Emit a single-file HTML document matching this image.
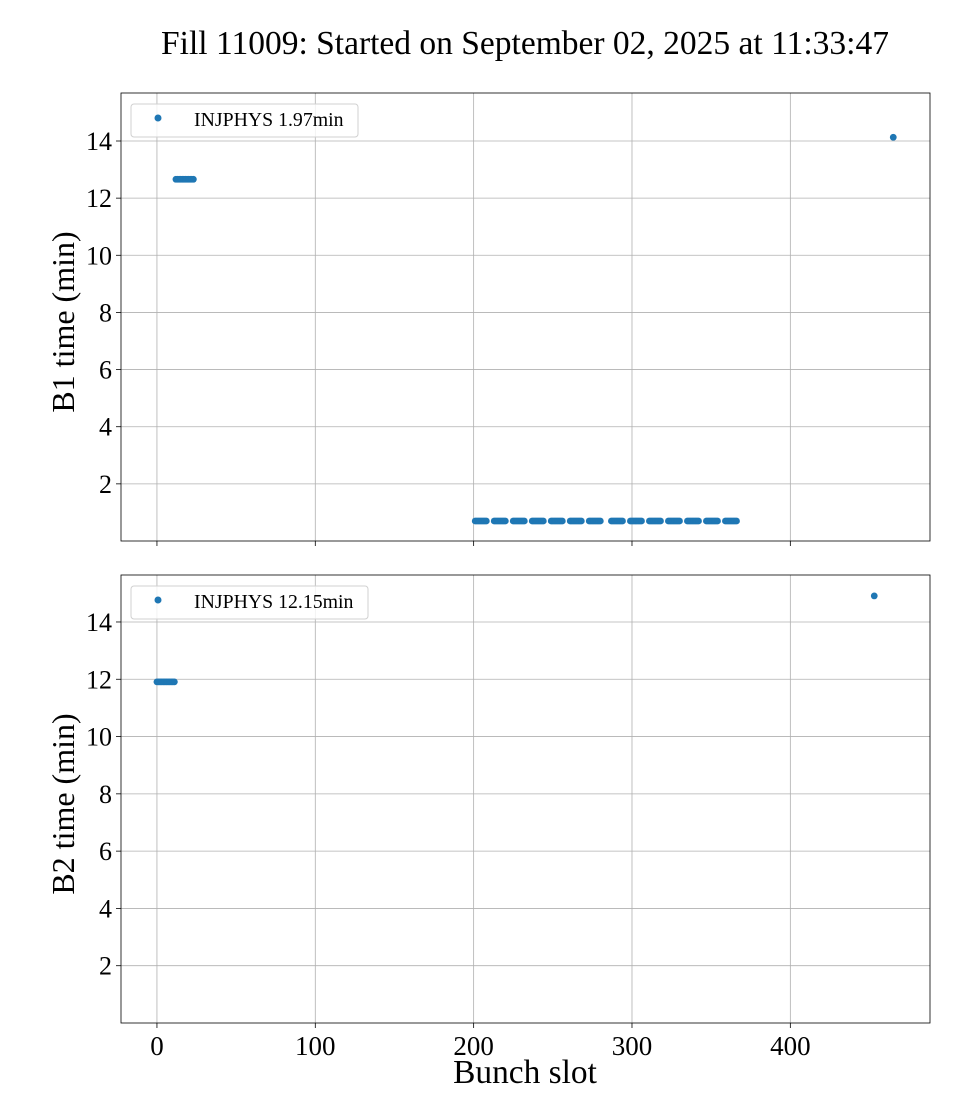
<!DOCTYPE html>
<html><head><meta charset="utf-8">
<style>
html,body{margin:0;padding:0;background:#fff;}
svg{display:block;font-family:"Liberation Serif",serif;}
</style></head>
<body>
<svg id="chart" width="960" height="1120" viewBox="0 0 960 1120"></svg>
<script>
// ---- data ----
const titleText = "Fill 11009: Started on September 02, 2025 at 11:33:47";
const xTicks = [0, 100, 200, 300, 400];
const yTicks = [2, 4, 6, 8, 10, 12, 14];
const b1GroupStarts = [12, 201, 213, 225, 237, 249, 261, 273, 287, 299, 311, 323, 335, 347, 359];
const b1GroupLengths = [12, 8, 8, 8, 8, 8, 8, 8, 8, 8, 8, 8, 8, 8, 8];
const b1GroupTimes = [12.66, 0.70, 0.70, 0.70, 0.70, 0.70, 0.70, 0.70, 0.70, 0.70, 0.70, 0.70, 0.70, 0.70, 0.70];
const b1SingleSlots = [465];
const b1SingleTimes = [14.13];
const b2GroupStarts = [0];
const b2GroupLengths = [12];
const b2GroupTimes = [11.91];
const b2SingleSlots = [453];
const b2SingleTimes = [14.91];
const b1Legend = "INJPHYS 1.97min";
const b2Legend = "INJPHYS 12.15min";

const NS = "http://www.w3.org/2000/svg";
const svg = document.getElementById('chart');
function mk(tag, attrs, parent){
  const e = document.createElementNS(NS, tag);
  for (const k in attrs) e.setAttribute(k, attrs[k]);
  (parent||svg).appendChild(e); return e;
}
const X0 = 121, X1 = 930, xMin = -22.7, xMax = 488.2;
const xScale = v => X0 + (v - xMin) / (xMax - xMin) * (X1 - X0);

const t = mk('text', {x: 525, y: 54, 'text-anchor': 'middle', 'font-size': 33.5, fill: '#000'});


t.textContent = titleText;

function panel(name, top, bottom, yMax, ylabel, gStarts, gLens, gTimes, sSlots, sTimes, legendText, legendW, showX){
  const yMin = 0;
  const yScale = v => bottom - (v - yMin) / (yMax - yMin) * (bottom - top);
  const g = mk('g', {});
  
  
  xTicks.forEach(v => {
    const l = mk('line', {x1: xScale(v), x2: xScale(v), y1: top, y2: bottom, stroke: '#b0b0b0', 'stroke-width': 0.8}, g);
    
    
    const tk = mk('line', {x1: xScale(v), x2: xScale(v), y1: bottom, y2: bottom + 5, stroke: '#000', 'stroke-width': 0.8}, g);
    
    
    if (showX) {
      const tl = mk('text', {x: xScale(v), y: bottom + 32, 'text-anchor': 'middle', 'font-size': 27}, g);
      
      
      tl.textContent = v;
    }
  });
  yTicks.forEach(v => {
    const l = mk('line', {x1: X0, x2: X1, y1: yScale(v), y2: yScale(v), stroke: '#b0b0b0', 'stroke-width': 0.8}, g);
    
    
    const tk = mk('line', {x1: X0 - 5, x2: X0, y1: yScale(v), y2: yScale(v), stroke: '#000', 'stroke-width': 0.8}, g);
    
    
    const tl = mk('text', {x: X0 - 9, y: yScale(v) + 9, 'text-anchor': 'end', 'font-size': 26}, g);
    
    
    tl.textContent = v;
  });
  gStarts.forEach((s, i) => {
    for (let k = 0; k < gLens[i]; k++) {
      const c = mk('circle', {cx: xScale(s + k), cy: yScale(gTimes[i]), r: 3.4, fill: '#1f77b4'}, g);
      
      
    }
  });
  sSlots.forEach((s, i) => {
    const c = mk('circle', {cx: xScale(s), cy: yScale(sTimes[i]), r: 3.4, fill: '#1f77b4'}, g);
    
    
  });
  const fr = mk('rect', {x: X0, y: top, width: X1 - X0, height: bottom - top, fill: 'none', stroke: '#000', 'stroke-width': 0.8}, g);
  
  
  const yl = mk('text', {x: 0, y: 0, 'text-anchor': 'middle', 'font-size': 32, transform: `translate(74 ${(top + bottom) / 2 + 5}) rotate(-90)`}, g);
  
  
  yl.textContent = ylabel;
  const lg = mk('g', {}, g);
  
  
  mk('rect', {x: 131, y: top + 11, width: legendW, height: 33, rx: 3, fill: '#fff', 'fill-opacity': 0.8, stroke: '#d0d0d0', 'stroke-width': 1}, lg);
  const lc = mk('circle', {cx: 158, cy: top + 25, r: 3.5, fill: '#1f77b4'}, lg);
  
  
  const lt = mk('text', {x: 194, y: top + 33, 'font-size': 19.8}, lg);
  
  
  lt.textContent = legendText;
}

panel('b1', 93, 541, 15.68, 'B1 time (min)', b1GroupStarts, b1GroupLengths, b1GroupTimes, b1SingleSlots, b1SingleTimes, b1Legend, 227, false);
panel('b2', 575, 1023, 15.64, 'B2 time (min)', b2GroupStarts, b2GroupLengths, b2GroupTimes, b2SingleSlots, b2SingleTimes, b2Legend, 237, true);

const xl = mk('text', {x: 525, y: 1083, 'text-anchor': 'middle', 'font-size': 33.4});


xl.textContent = 'Bunch slot';
</script>
</body></html>
